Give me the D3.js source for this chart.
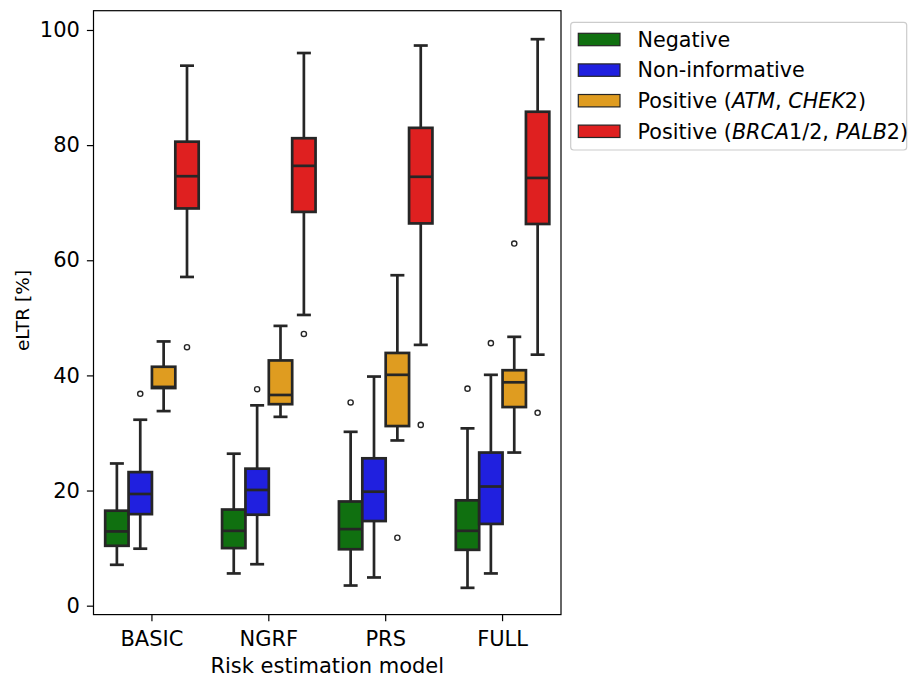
<!DOCTYPE html>
<html>
<head>
<meta charset="utf-8">
<script src="https://cdn.jsdelivr.net/npm/d3@7"></script>
<style>
  body { margin: 0; background: #fff; }
  svg { display: block; font-family: "DejaVu Sans", sans-serif; }
</style>
</head>
<body>
<svg id="chart" width="909" height="678"></svg>
<script>
// ---- data ----
const categories = ["BASIC", "NGRF", "PRS", "FULL"];
const hues = ["Negative", "Non-informative", "Positive (ATM, CHEK2)", "Positive (BRCA1/2, PALB2)"];
const colors = ["#107010", "#2020df", "#df9c20", "#df2020"];
// each: [whiskerLow, Q1, median, Q3, whiskerHigh]
const negative = [
  [7.1, 10.4, 12.9, 16.5, 24.7],
  [5.6, 10.0, 13.0, 16.7, 26.4],
  [3.5, 9.8, 13.3, 18.1, 30.2],
  [3.1, 9.7, 13.0, 18.3, 30.8]
];
const nonInformative = [
  [9.9, 15.9, 19.4, 23.2, 32.3],
  [7.2, 15.8, 20.1, 23.8, 34.8],
  [4.9, 14.7, 19.8, 25.6, 39.8],
  [5.6, 14.2, 20.7, 26.6, 40.1]
];
const positiveAtm = [
  [33.8, 37.8, 38.0, 41.5, 45.9],
  [32.8, 35.0, 36.6, 42.6, 48.6],
  [28.7, 31.2, 40.1, 43.9, 57.4],
  [26.6, 34.5, 38.8, 40.9, 46.7]
];
const positiveBrca = [
  [57.1, 69.0, 74.6, 80.6, 93.8],
  [50.5, 68.4, 76.4, 81.2, 96.0],
  [45.3, 66.4, 74.5, 83.0, 97.3],
  [43.6, 66.3, 74.3, 85.8, 98.4]
];
// outliers per category
const outNegative = [[], [], [35.3], [37.7]];
const outNonInformative = [[36.8], [37.6], [], [45.6]];
const outPositiveAtm = [[], [], [11.8], [62.9]];
const outPositiveBrca = [[44.9], [47.2], [31.4], [33.5]];
const yTicks = [0, 20, 40, 60, 80, 100];

const seriesStats = [negative, nonInformative, positiveAtm, positiveBrca];
const seriesOut = [outNegative, outNonInformative, outPositiveAtm, outPositiveBrca];

// ---- layout ----
const svg = d3.select("#chart");
const L = 93.5, R = 561, T = 10.7, B = 614.6;
const edge = "#262626";
const lw = 2.7;
const fs = "21px";

const x = d3.scaleBand().domain(categories).range([L, R]).padding(0);
const y = d3.scaleLinear().domain([-1.55, 103.35]).range([B, T]);
const hueScale = d3.scaleBand().domain(hues).range([-0.4 * x.bandwidth(), 0.4 * x.bandwidth()]).padding(0);
const bw = hueScale.bandwidth();
const capW = bw * 0.6;

const boxes = [];
hues.forEach((h, hi) => {
  categories.forEach((c, ci) => {
    const s = seriesStats[hi][ci];
    boxes.push({ hue: h, hi, cat: c, lo: s[0], q1: s[1], med: s[2], q3: s[3], hi5: s[4], out: seriesOut[hi][ci] });
  });
});

const g = svg.append("g");
const bx = d => x(d.cat) + x.bandwidth() / 2 + hueScale(d.hue);
const bc = d => bx(d) + bw / 2;

const grp = g.selectAll("g.box").data(boxes).join("g").attr("class", "box");
// whiskers
grp.append("line").attr("x1", bc).attr("x2", bc).attr("y1", d => y(d.q3)).attr("y2", d => y(d.hi5))
  .attr("stroke", edge).attr("stroke-width", lw);
grp.append("line").attr("x1", bc).attr("x2", bc).attr("y1", d => y(d.q1)).attr("y2", d => y(d.lo))
  .attr("stroke", edge).attr("stroke-width", lw);
// caps
grp.append("line").attr("x1", d => bc(d) - capW / 2).attr("x2", d => bc(d) + capW / 2)
  .attr("y1", d => y(d.hi5)).attr("y2", d => y(d.hi5)).attr("stroke", edge).attr("stroke-width", lw);
grp.append("line").attr("x1", d => bc(d) - capW / 2).attr("x2", d => bc(d) + capW / 2)
  .attr("y1", d => y(d.lo)).attr("y2", d => y(d.lo)).attr("stroke", edge).attr("stroke-width", lw);
// box
grp.append("rect").attr("x", bx).attr("width", bw)
  .attr("y", d => y(d.q3)).attr("height", d => y(d.q1) - y(d.q3))
  .attr("fill", d => colors[d.hi]).attr("stroke", edge).attr("stroke-width", lw);
// median
grp.append("line").attr("x1", bx).attr("x2", d => bx(d) + bw)
  .attr("y1", d => y(d.med)).attr("y2", d => y(d.med)).attr("stroke", edge).attr("stroke-width", lw);
// fliers
grp.selectAll("circle").data(d => d.out.map(v => ({ v, d }))).join("circle")
  .attr("cx", o => bc(o.d)).attr("cy", o => y(o.v)).attr("r", 2.6)
  .attr("fill", "none").attr("stroke", edge).attr("stroke-width", 1.4);

// frame
svg.append("rect").attr("x", L).attr("y", T).attr("width", R - L).attr("height", B - T)
  .attr("fill", "none").attr("stroke", "#000").attr("stroke-width", 1.2);

// axes
const yAxis = d3.axisLeft(y).tickValues(yTicks).tickSize(6.6).tickPadding(7);
const ya = svg.append("g").attr("transform", `translate(${L},0)`).call(yAxis);
ya.select(".domain").remove();
ya.selectAll("line").attr("stroke", "#000").attr("stroke-width", 1.2);
ya.selectAll("text").attr("font-size", fs).attr("fill", "#000").attr("font-family", "DejaVu Sans");

const xAxis = d3.axisBottom(x).tickSize(6.6).tickPadding(9.5);
const xa = svg.append("g").attr("transform", `translate(0,${B})`).call(xAxis);
xa.select(".domain").remove();
xa.selectAll("line").attr("stroke", "#000").attr("stroke-width", 1.2);
xa.selectAll("text").attr("font-size", fs).attr("fill", "#000").attr("font-family", "DejaVu Sans");

// axis labels
svg.append("text").attr("x", (L + R) / 2).attr("y", 673).attr("text-anchor", "middle")
  .attr("font-size", fs).text("Risk estimation model");
svg.append("text").attr("transform", "translate(28.5,310.5) rotate(-90)").attr("text-anchor", "middle")
  .attr("font-size", "18.5px").text("eLTR [%]");

// legend
const leg = svg.append("g");
leg.append("rect").attr("x", 570.7).attr("y", 22.3).attr("width", 336).attr("height", 127.7)
  .attr("rx", 3).attr("fill", "#fff").attr("fill-opacity", 0.8).attr("stroke", "#cccccc").attr("stroke-width", 1.2);
const legLabels = [
  [["Negative", false]],
  [["Non-informative", false]],
  [["Positive (", false], ["ATM", true], [", ", false], ["CHEK", true], ["2)", false]],
  [["Positive (", false], ["BRCA", true], ["1/2, ", false], ["PALB", true], ["2)", false]]
];
const rowY = d3.scaleLinear().domain([0, 3]).range([39.5, 131.3]);
hues.forEach((h, i) => {
  leg.append("rect").attr("x", 578.3).attr("y", rowY(i) - 6.2).attr("width", 41.7).attr("height", 12.4)
    .attr("fill", colors[i]).attr("stroke", edge).attr("stroke-width", 1.2);
  const t = leg.append("text").attr("x", 637.5).attr("y", rowY(i) + 7.2).attr("font-size", "20.7px").attr("fill", "#000");
  legLabels[i].forEach(([s, it]) => {
    t.append("tspan").attr("font-style", it ? "italic" : "normal").text(s);
  });
});
</script>
</body>
</html>
